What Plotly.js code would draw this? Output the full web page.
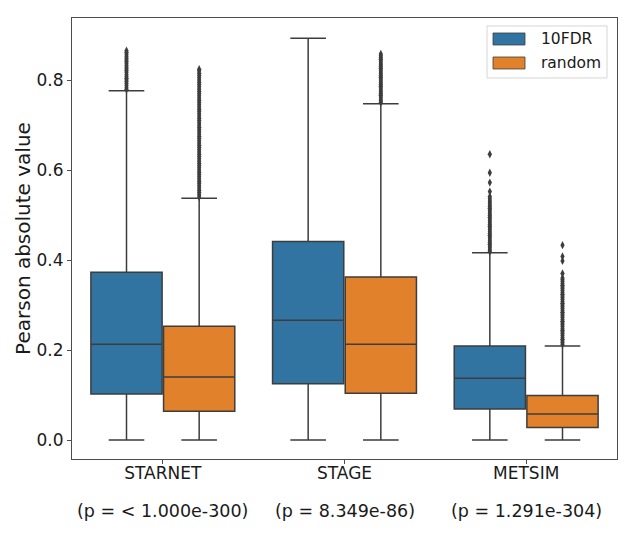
<!DOCTYPE html>
<html>
<head>
<meta charset="utf-8">
<script src="https://cdn.plot.ly/plotly-3.0.1.min.js"></script>
<style>html,body{margin:0;padding:0;background:#fff;}#chart{width:628px;height:534px;}</style>
</head>
<body>
<div id="chart"></div>
<script>
// ---- data ----
var categories = ['STARNET', 'STAGE', 'METSIM'];
var pLabels = ['(p = &lt; 1.000e-300)', '(p = 8.349e-86)', '(p = 1.291e-304)'];
var seriesNames = ['10FDR', 'random'];

var fdrQ1 = [0.102, 0.125, 0.069];
var fdrMedian = [0.213, 0.266, 0.137];
var fdrQ3 = [0.373, 0.441, 0.209];
var fdrLower = [0.0, 0.0, 0.0];
var fdrUpper = [0.776, 0.893, 0.416];

var rndQ1 = [0.064, 0.104, 0.028];
var rndMedian = [0.140, 0.213, 0.058];
var rndQ3 = [0.253, 0.362, 0.099];
var rndLower = [0.0, 0.0, 0.0];
var rndUpper = [0.537, 0.747, 0.209];

// outliers (fliers) per category
var fdrOutStarnet = [0.779, 0.783, 0.788, 0.792, 0.796, 0.800, 0.804, 0.808, 0.812, 0.817, 0.821, 0.825, 0.829, 0.833, 0.837, 0.841, 0.845, 0.849, 0.853, 0.857, 0.861, 0.865];
var fdrOutStage = [];
var fdrOutMetsim = [0.419, 0.423, 0.427, 0.431, 0.435, 0.439, 0.443, 0.447, 0.451, 0.455, 0.459, 0.463, 0.467, 0.471, 0.475, 0.479, 0.483, 0.487, 0.491, 0.495, 0.499, 0.503, 0.507, 0.511, 0.515, 0.519, 0.523, 0.527, 0.531, 0.536, 0.541, 0.552, 0.572, 0.594, 0.635];

var rndOutStarnet = [0.540, 0.545, 0.550, 0.555, 0.560, 0.565, 0.570, 0.575, 0.580, 0.585, 0.590, 0.595, 0.600, 0.605, 0.610, 0.615, 0.620, 0.625, 0.630, 0.635, 0.640, 0.645, 0.650, 0.655, 0.660, 0.665, 0.670, 0.675, 0.680, 0.685, 0.690, 0.695, 0.700, 0.705, 0.710, 0.715, 0.720, 0.725, 0.730, 0.735, 0.740, 0.745, 0.750, 0.755, 0.760, 0.765, 0.770, 0.775, 0.780, 0.785, 0.790, 0.795, 0.800, 0.805, 0.810, 0.815, 0.820, 0.824];
var rndOutStage = [0.750, 0.754, 0.758, 0.762, 0.766, 0.770, 0.774, 0.778, 0.782, 0.786, 0.790, 0.794, 0.798, 0.802, 0.806, 0.810, 0.814, 0.818, 0.822, 0.826, 0.830, 0.834, 0.838, 0.842, 0.846, 0.850, 0.854, 0.858];
var rndOutMetsim = [0.212, 0.216, 0.220, 0.224, 0.228, 0.232, 0.236, 0.240, 0.244, 0.248, 0.252, 0.256, 0.260, 0.264, 0.268, 0.272, 0.276, 0.280, 0.284, 0.288, 0.292, 0.296, 0.300, 0.304, 0.308, 0.312, 0.316, 0.320, 0.324, 0.328, 0.332, 0.336, 0.340, 0.344, 0.348, 0.352, 0.356, 0.360, 0.370, 0.398, 0.408, 0.433];

var yTickVals = [0.0, 0.2, 0.4, 0.6, 0.8];
var yTickText = ['0.0', '0.2', '0.4', '0.6', '0.8'];

// ---- styling ----
var colors = ['#3274a1', '#e1812c'];
var lineGray = '#3d3d3d';
var font = 'DejaVu Sans, sans-serif';
var textColor = '#1a1a1a';
var idx = categories.map(function (c, i) { return i; });
var hueOffset = [-0.2, 0.2];

function boxTrace(name, q1, med, q3, lo, hi, color) {
  return {
    type: 'box', name: name, x: idx,
    q1: q1, median: med, q3: q3, lowerfence: lo, upperfence: hi,
    fillcolor: color, line: {color: lineGray, width: 1.5},
    whiskerwidth: 0.5, boxpoints: false, showlegend: false, hoverinfo: 'skip'
  };
}
function flierTrace(lists, off) {
  var xs = [], ys = [];
  lists.forEach(function (vals, i) {
    vals.forEach(function (v) { xs.push(i + off); ys.push(v); });
  });
  return {
    type: 'scatter', mode: 'markers', x: xs, y: ys, showlegend: false, hoverinfo: 'skip',
    marker: {symbol: 'diamond-tall', size: 6, color: lineGray, line: {width: 0}}
  };
}

var traces = [
  boxTrace(seriesNames[0], fdrQ1, fdrMedian, fdrQ3, fdrLower, fdrUpper, colors[0]),
  boxTrace(seriesNames[1], rndQ1, rndMedian, rndQ3, rndLower, rndUpper, colors[1]),
  flierTrace([fdrOutStarnet, fdrOutStage, fdrOutMetsim], hueOffset[0]),
  flierTrace([rndOutStarnet, rndOutStage, rndOutMetsim], hueOffset[1])
];

var pAnnotations = categories.map(function (c, i) {
  return {xref: 'x', yref: 'paper', x: i, y: -0.118, xanchor: 'center', yanchor: 'middle',
    text: pLabels[i], showarrow: false, font: {size: 17.5, family: font, color: textColor}};
});

var axisColor = '#4d4d4d';
var layout = {
  width: 628, height: 534,
  margin: {l: 72, r: 11, t: 18, b: 75},
  paper_bgcolor: '#ffffff', plot_bgcolor: '#ffffff',
  font: {family: font, color: textColor},
  boxmode: 'group', boxgap: 0.2, boxgroupgap: 0.02,
  showlegend: false,
  xaxis: {
    range: [-0.5, 2.5], tickvals: idx, ticktext: categories,
    tickfont: {size: 17, family: font, color: textColor},
    showgrid: false, zeroline: false, showline: true, mirror: true,
    linecolor: axisColor, linewidth: 1, ticks: 'outside', ticklen: 4, tickcolor: axisColor,
    ticklabelstandoff: -5
  },
  yaxis: {
    range: [-0.0422, 0.9378], tickvals: yTickVals, ticktext: yTickText,
    tickfont: {size: 17, family: font, color: textColor},
    title: {text: 'Pearson absolute value', font: {size: 20, family: font, color: textColor}, standoff: 0},
    showgrid: false, zeroline: false, showline: true, mirror: true,
    linecolor: axisColor, linewidth: 1, ticks: 'outside', ticklen: 4, tickcolor: axisColor
  },
  shapes: [
    {type: 'rect', xref: 'paper', yref: 'paper', x0: 0.7615, x1: 0.9817, y0: 0.864, y1: 0.982,
     line: {color: '#d6d6d6', width: 1}, fillcolor: 'rgba(255,255,255,0.8)'},
    {type: 'rect', xref: 'paper', yref: 'paper', x0: 0.7725, x1: 0.8312, y0: 0.9388, y1: 0.966,
     line: {color: lineGray, width: 0.8}, fillcolor: colors[0]},
    {type: 'rect', xref: 'paper', yref: 'paper', x0: 0.7725, x1: 0.8312, y0: 0.8844, y1: 0.9116,
     line: {color: lineGray, width: 0.8}, fillcolor: colors[1]}
  ],
  annotations: [
    {xref: 'paper', yref: 'paper', x: 0.8569, y: 0.9513, xanchor: 'left', yanchor: 'middle',
     text: seriesNames[0], showarrow: false, font: {size: 15.5, family: font, color: textColor}},
    {xref: 'paper', yref: 'paper', x: 0.8569, y: 0.898, xanchor: 'left', yanchor: 'middle',
     text: seriesNames[1], showarrow: false, font: {size: 15.5, family: font, color: textColor}}
  ].concat(pAnnotations)
};

Plotly.newPlot('chart', traces, layout, {displayModeBar: false, staticPlot: true});
</script>
</body>
</html>
